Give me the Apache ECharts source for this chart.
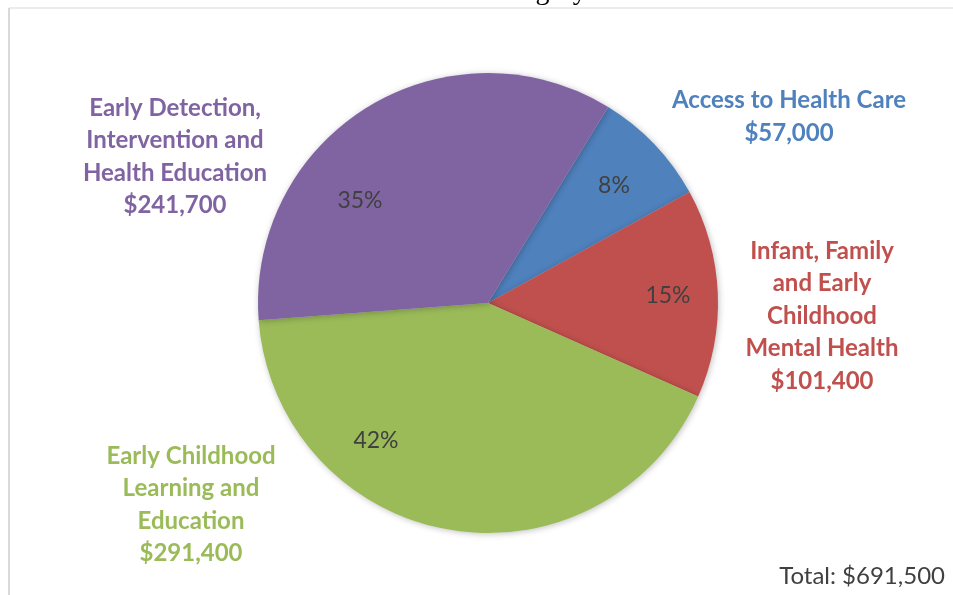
<!DOCTYPE html>
<html>
<head>
<meta charset="utf-8">
<script src="https://cdn.jsdelivr.net/npm/echarts@6/dist/echarts.min.js"></script>
<style>
  html, body { margin: 0; padding: 0; background: #fff; }
  #main { width: 953px; height: 595px; }
</style>
</head>
<body>
<div id="main"></div>
<script>
// slice names (label text, with line breaks) and dollar amounts
var names = [
  'Access to Health Care',
  'Infant, Family\nand Early\nChildhood\nMental Health',
  'Early Childhood\nLearning and\nEducation',
  'Early Detection,\nIntervention and\nHealth Education'
];
var amounts = [57000, 101400, 291400, 241700];
var colors = ['#4f81bd', '#c0504d', '#9bbb59', '#8064a2'];
var total = 691500;

// where Excel put the labels (centres)
var pctPos = [[614, 186], [668, 296], [376, 441], [360, 201]];
var outPos = [[789, 117], [822, 316], [191, 505], [175, 157]];

var font = 'Lato, "Open Sans", sans-serif';

function money(v) {
  return '$' + v.toLocaleString('en-US');
}

var pieData = amounts.map(function (v, i) {
  return { name: names[i], value: v, itemStyle: { color: colors[i] } };
});
var outerData = amounts.map(function (v, i) {
  return {
    name: names[i], value: v,
    label: { color: colors[i] }
  };
});

var myChart = echarts.init(document.getElementById('main'));
var option = {
  animation: false,
  graphic: [
    // plot frame (top and left edges show)
    { type: 'line', shape: { x1: 9, y1: 8, x2: 953, y2: 8 }, style: { stroke: '#d9d9d9', lineWidth: 1 } },
    { type: 'line', shape: { x1: 9, y1: 8, x2: 9, y2: 595 }, style: { stroke: '#d9d9d9', lineWidth: 2 } },
    // title, mostly cut off above the picture
    {
      type: 'text', x: 464, y: -22,
      style: { text: 'Amount Per Category', textAlign: 'center', font: '28px "Liberation Serif", serif', fill: '#000' }
    },
    {
      type: 'text', right: 8, top: 564,
      style: { text: 'Total: ' + money(total), font: '24px ' + font, fill: '#404040' }
    }
  ],
  series: [
    {
      type: 'pie',
      center: [488, 303],
      radius: 230,
      startAngle: 58.5,
      clockwise: true,
      silent: true,
      itemStyle: { shadowBlur: 6, shadowColor: 'rgba(0,0,0,0.25)', shadowOffsetX: 1, shadowOffsetY: 1 },
      data: pieData,
      label: {
        show: true,
        position: 'inside',
        fontFamily: font,
        fontSize: 23,
        color: '#404040',
        formatter: function (p) { return Math.round(p.value / total * 100) + '%'; }
      },
      labelLine: { show: false },
      labelLayout: function (p) {
        var c = pctPos[p.dataIndex];
        return { x: c[0], y: c[1], align: 'center', verticalAlign: 'middle' };
      }
    },
    {
      type: 'pie',
      center: [488, 303],
      radius: 1,
      startAngle: 58.5,
      silent: true,
      itemStyle: { color: 'rgba(0,0,0,0)' },
      data: outerData,
      label: {
        show: true,
        position: 'outside',
        fontFamily: font,
        fontWeight: 'bold',
        fontSize: 24,
        lineHeight: 32.5,
        align: 'center',
        formatter: function (p) { return p.name + '\n' + money(p.value); }
      },
      labelLine: { show: false },
      labelLayout: function (p) {
        var c = outPos[p.dataIndex];
        return { x: c[0], y: c[1], align: 'center', verticalAlign: 'middle' };
      }
    }
  ]
};
myChart.setOption(option);
</script>
</body>
</html>
